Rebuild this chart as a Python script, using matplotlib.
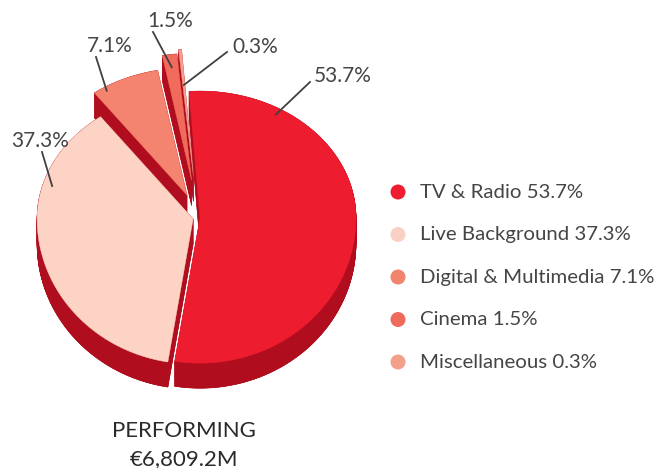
import numpy as np
import matplotlib
matplotlib.use("Agg")
import matplotlib.pyplot as plt
from matplotlib.patches import Polygon, Circle

# data
categories = ["TV & Radio", "Live Background", "Digital & Multimedia", "Cinema", "Miscellaneous"]
shares = [53.7, 37.3, 7.1, 1.5, 0.3]
face_colors = ["#ED1C2E", "#FDD3C5", "#F4846F", "#F06B5C", "#F5A18E"]
legend_colors = ["#EE1C2F", "#F9D0C3", "#F0846D", "#EE6B5C", "#F2A08C"]
title_lines = ["PERFORMING", "\u20ac6,809.2M"]

# layout of the fake 3d pie (pixel space)
CX, CY = 197, 218
RX, RY_BACK, RY_FRONT = 156, 127, 145
DEPTH = 25
START = -4
SIDE = "#B00E1E"
explode = [3, 4, 25, 38, 42]
# (position along slice span, radial fraction, text x, text y, line end x, line end y, ha)
label_layout = [
    (0.18, 0.95, 314, 82, 310, 82, "left"),
    (0.72, 0.94, 40, 147, 42, 152, "center"),
    (0.17, 0.97, 110, 52, 96, 57, "center"),
    (0.50, 0.90, 170, 27, 153, 32, "center"),
    (0.50, 0.72, 232, 53, 227, 52, "left"),
]
TEXT = "#454545"
FONT = ["Lato", "DejaVu Sans"]

plt.rcParams["font.family"] = FONT


def rim(theta, cx, cy, frac=1.0):
    t = np.radians(theta)
    c = np.cos(t)
    ry = np.where(c > 0, RY_BACK, RY_FRONT)
    return cx + frac * RX * np.sin(t), cy - frac * ry * c


def main():
    fig = plt.figure(figsize=(6.59, 4.68), dpi=100)
    ax = fig.add_axes([0, 0, 1, 1])
    ax.set_xlim(0, 659)
    ax.set_ylim(468, 0)
    ax.axis("off")

    bounds = START + 360 * np.concatenate([[0], np.cumsum(shares)]) / 100.0
    slices = []
    for i, s in enumerate(shares):
        a0, a1 = bounds[i], bounds[i + 1]
        mid = np.radians((a0 + a1) / 2)
        ox = CX + explode[i] * np.sin(mid)
        oy = CY - explode[i] * np.cos(mid)
        th = np.linspace(a0, a1, max(3, int((a1 - a0) * 2)))
        xs, ys = rim(th, ox, oy)
        poly = np.column_stack([np.r_[ox, xs], np.r_[oy, ys]])
        slices.append((poly, ox, oy, a0, a1))

    # back slices first, each one extruded downward for the side wall
    for i in [4, 3, 2, 1, 0]:
        poly = slices[i][0]
        low = poly + [0, DEPTH]
        ax.add_patch(Polygon(low, closed=True, fc=SIDE, ec=SIDE, lw=0.4))
        n = len(poly)
        for k in range(n):
            p, q = poly[k], poly[(k + 1) % n]
            quad = [p, q, q + [0, DEPTH], p + [0, DEPTH]]
            ax.add_patch(Polygon(quad, closed=True, fc=SIDE, ec=SIDE, lw=0.4))
        ax.add_patch(Polygon(poly, closed=True, fc=face_colors[i],
                             ec=face_colors[i], lw=0.3))

    # value labels with leader lines
    for i, s in enumerate(shares):
        poly, ox, oy, a0, a1 = slices[i]
        f, r, tx, ty, lx, ly, ha = label_layout[i]
        sx, sy = rim(a0 + f * (a1 - a0), ox, oy, r)
        ax.plot([sx, lx], [sy, ly], color="#404040", lw=1.3)
        ax.text(tx, ty, f"{s}%", fontsize=15, color=TEXT, ha=ha, va="baseline")

    # legend
    for i, name in enumerate(categories):
        y = 192 + i * 42.5
        ax.add_patch(Circle((398, y), 7.5, fc=legend_colors[i], ec="none"))
        ax.text(420, y, f"{name} {shares[i]}%", fontsize=14.7, color=TEXT,
                ha="left", va="center")

    ax.text(184, 437, title_lines[0], fontsize=16, color="#2A2A2A", ha="center",
            va="baseline")
    ax.text(184, 465, title_lines[1], fontsize=16, color="#2A2A2A", ha="center",
            va="baseline")

    fig.savefig("out.png", dpi=100)


if __name__ == "__main__":
    main()
